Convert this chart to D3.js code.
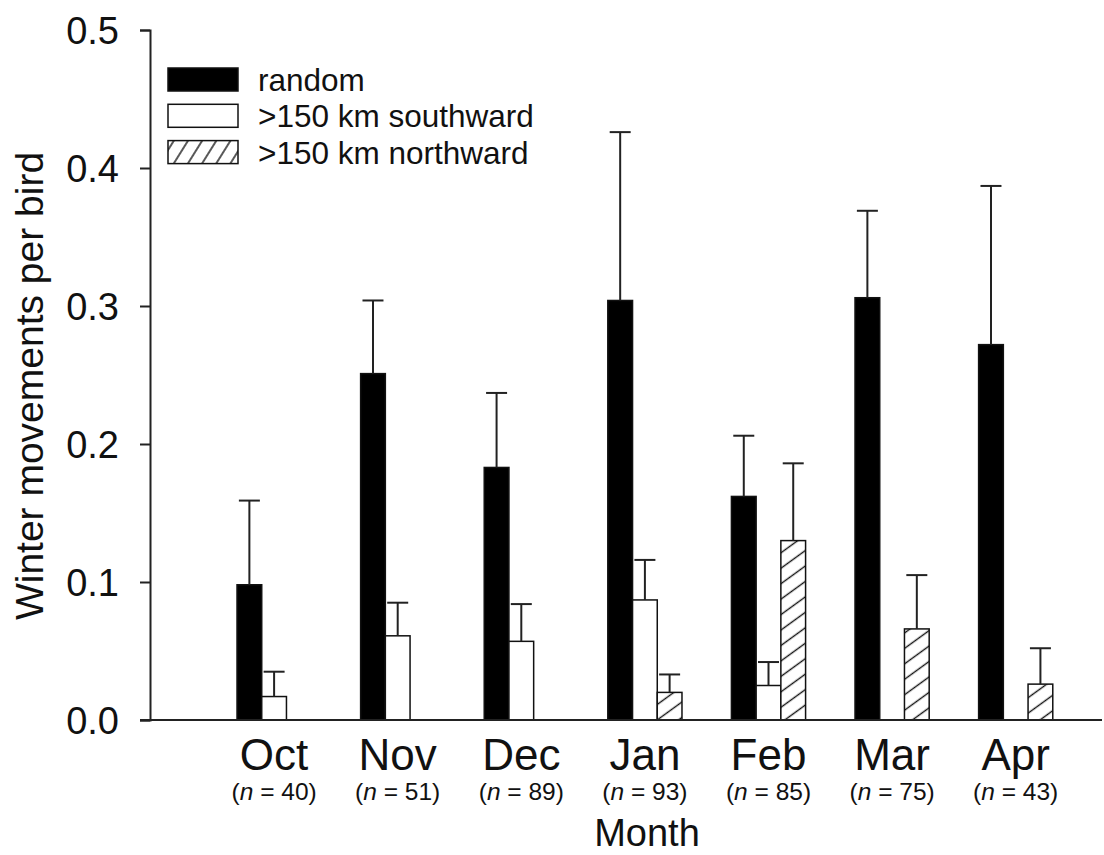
<!DOCTYPE html>
<html>
<head>
<meta charset="utf-8">
<script src="https://cdn.jsdelivr.net/npm/d3@7"></script>
<style>
  html, body { margin: 0; padding: 0; background: #fff; }
  svg { display: block; font-family: "Liberation Sans", Arial, sans-serif; }
</style>
</head>
<body>
<svg id="chart" width="1104" height="855"></svg>
<script>
// ---- data ----
const months = ["Oct", "Nov", "Dec", "Jan", "Feb", "Mar", "Apr"];
const sampleSizes = [40, 51, 89, 93, 85, 75, 43];
const seriesNames = ["random", ">150 km southward", ">150 km northward"];
const randomMean = [0.098, 0.251, 0.183, 0.304, 0.162, 0.306, 0.272];
const randomSE   = [0.061, 0.053, 0.054, 0.122, 0.044, 0.063, 0.115];
const southMean  = [0.017, 0.061, 0.057, 0.087, 0.025, null, null];
const southSE    = [0.018, 0.024, 0.027, 0.029, 0.017, null, null];
const northMean  = [null, null, null, 0.020, 0.130, 0.066, 0.026];
const northSE    = [null, null, null, 0.013, 0.056, 0.039, 0.026];
const yTicks = [0.0, 0.1, 0.2, 0.3, 0.4, 0.5];

const seriesKeys = ["random", "south", "north"];
const seriesData = {
  random: { mean: randomMean, se: randomSE },
  south: { mean: southMean, se: southSE },
  north: { mean: northMean, se: northSE }
};

// ---- layout ----
const svg = d3.select("#chart");
const ink = "#111";

const y = d3.scaleLinear().domain([0, 0.5]).range([720, 30]);
const x = d3.scaleBand().domain(months).range([212.3, 1077.5])
  .paddingInner(0.4).paddingOuter(0.2);
const xs = d3.scaleBand().domain(seriesKeys).range([0, x.bandwidth()]);

// patterns
const defs = svg.append("defs");
function hatch(id, angle, spacing) {
  const p = defs.append("pattern").attr("id", id)
    .attr("patternUnits", "userSpaceOnUse")
    .attr("width", 20).attr("height", spacing)
    .attr("patternTransform", `rotate(${angle})`);
  p.append("rect").attr("width", 20).attr("height", spacing).attr("fill", "#fff");
  p.append("line").attr("x1", 0).attr("x2", 20)
    .attr("y1", spacing / 2).attr("y2", spacing / 2)
    .attr("stroke", ink).attr("stroke-width", 1.4);
}
hatch("hatchBar", -36, 12.5);
hatch("hatchLegend", -58, 12);

const fills = { random: "#000", south: "#fff", north: "url(#hatchBar)" };
const legendFills = { random: "#000", south: "#fff", north: "url(#hatchLegend)" };

// bars
const rows = [];
months.forEach((m, i) => {
  seriesKeys.forEach(k => {
    const v = seriesData[k].mean[i];
    if (v != null) rows.push({ month: m, key: k, value: v, se: seriesData[k].se[i] });
  });
});

const g = svg.append("g");
g.selectAll("rect.bar").data(rows).join("rect")
  .attr("class", "bar")
  .attr("x", d => x(d.month) + xs(d.key))
  .attr("width", xs.bandwidth())
  .attr("y", d => y(d.value))
  .attr("height", d => y(0) - y(d.value))
  .attr("fill", d => fills[d.key])
  .attr("stroke", ink).attr("stroke-width", 1.5);

// error bars (upper only)
const capHalf = 10.5;
const eb = g.selectAll("g.err").data(rows).join("g").attr("class", "err")
  .attr("stroke", "#222").attr("stroke-width", 2);
eb.append("line")
  .attr("x1", d => x(d.month) + xs(d.key) + xs.bandwidth() / 2)
  .attr("x2", d => x(d.month) + xs(d.key) + xs.bandwidth() / 2)
  .attr("y1", d => y(d.value))
  .attr("y2", d => y(d.value + d.se));
eb.append("line")
  .attr("x1", d => x(d.month) + xs(d.key) + xs.bandwidth() / 2 - capHalf)
  .attr("x2", d => x(d.month) + xs(d.key) + xs.bandwidth() / 2 + capHalf)
  .attr("y1", d => y(d.value + d.se))
  .attr("y2", d => y(d.value + d.se));

// y axis
const yAxis = svg.append("g").attr("transform", "translate(150,0)")
  .call(d3.axisLeft(y).tickValues(yTicks).tickFormat(d3.format(".1f"))
    .tickSizeOuter(0).tickSize(10).tickPadding(21));
yAxis.select(".domain").attr("stroke", "#222").attr("stroke-width", 2);
yAxis.selectAll(".tick line").attr("stroke", "#222").attr("stroke-width", 2);
yAxis.selectAll(".tick text").attr("font-size", 38).attr("fill", ink)
  .attr("font-family", "Liberation Sans, Arial, sans-serif").attr("dy", "0.36em");

// x axis line
svg.append("line").attr("x1", 140).attr("x2", 1102)
  .attr("y1", y(0)).attr("y2", y(0))
  .attr("stroke", "#222").attr("stroke-width", 2);

// month labels
const labelX = m => x(m) + x.bandwidth() / 2;
svg.selectAll("text.month").data(months).join("text")
  .attr("class", "month")
  .attr("x", labelX).attr("y", 770)
  .attr("text-anchor", "middle").attr("font-size", 44).attr("fill", ink)
  .text(d => d);

const nl = svg.selectAll("text.nlab").data(months).join("text")
  .attr("class", "nlab")
  .attr("x", labelX).attr("y", 800)
  .attr("text-anchor", "middle").attr("font-size", 24.5).attr("fill", ink);
nl.append("tspan").text("(");
nl.append("tspan").attr("font-style", "italic").text("n");
nl.append("tspan").text((d, i) => " = " + sampleSizes[i] + ")");

// axis titles
svg.append("text").attr("x", 647).attr("y", 846)
  .attr("text-anchor", "middle").attr("font-size", 38).attr("fill", ink)
  .text("Month");
svg.append("text")
  .attr("transform", "translate(43,386) rotate(-90)")
  .attr("text-anchor", "middle").attr("font-size", 39).attr("fill", ink)
  .text("Winter movements per bird");

// legend
const lg = svg.append("g");
seriesKeys.forEach((k, i) => {
  const cy = 80 + i * 36.3;
  lg.append("rect").attr("x", 168).attr("y", cy - 12).attr("width", 70).attr("height", 23)
    .attr("fill", legendFills[k]).attr("stroke", ink).attr("stroke-width", 1.5);
  lg.append("text").attr("x", 258).attr("y", cy + 11)
    .attr("font-size", 31.5).attr("fill", ink).text(seriesNames[i]);
});
</script>
</body>
</html>
